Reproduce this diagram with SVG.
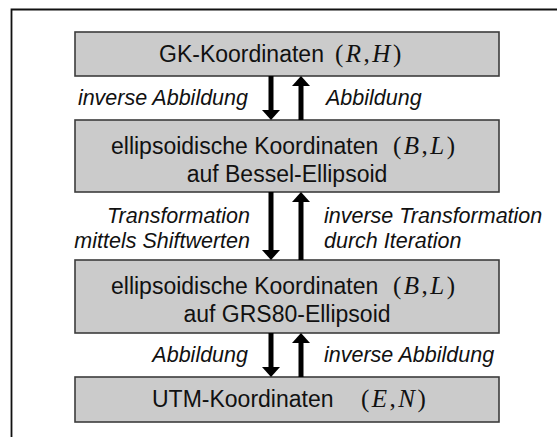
<svg xmlns="http://www.w3.org/2000/svg" width="557" height="437" viewBox="0 0 557 437">
<defs>
<style>
.box{fill:#cbcbcb;stroke:#3c3c3c;stroke-width:1.6}
.t{font-family:"Liberation Sans",Arial,sans-serif;font-size:23px;fill:#111}
.m{font-family:"Liberation Serif","Times New Roman",serif;font-size:25px;fill:#111;letter-spacing:2.5px}
.mi{font-style:italic}
.lab{font-family:"Liberation Sans",Arial,sans-serif;font-size:21.5px;font-style:italic;fill:#111}
</style>
<marker id="ah" viewBox="0 0 10 18" markerWidth="10" markerHeight="18" refX="0" refY="9" orient="auto" markerUnits="userSpaceOnUse">
<path d="M0,0 L10,9 L0,18 Z" fill="#000"/>
</marker>
</defs>
<rect width="557" height="437" fill="#fff"/>
<path d="M11.5,437 V9.5 H557" fill="none" stroke="#111" stroke-width="1.8"/>

<g id="node-gk">
<rect class="box" x="75" y="32" width="424" height="44"/>
<text class="t" x="159" y="62">GK-Koordinaten</text>
<text class="m" x="335" y="62">(<tspan class="mi">R</tspan>,<tspan class="mi">H</tspan>)</text>
</g>

<g id="node-bessel">
<rect class="box" x="75" y="120" width="424" height="72"/>
<text class="t" x="111" y="154">ellipsoidische Koordinaten</text>
<text class="m" x="393" y="154">(<tspan class="mi">B</tspan>,<tspan class="mi">L</tspan>)</text>
<text class="t" x="287" y="182" text-anchor="middle">auf Bessel-Ellipsoid</text>
</g>

<g id="node-grs80">
<rect class="box" x="75" y="260" width="424" height="73"/>
<text class="t" x="111" y="294">ellipsoidische Koordinaten</text>
<text class="m" x="393" y="294">(<tspan class="mi">B</tspan>,<tspan class="mi">L</tspan>)</text>
<text class="t" x="287" y="322" text-anchor="middle">auf GRS80-Ellipsoid</text>
</g>

<g id="node-utm">
<rect class="box" x="75" y="377" width="424" height="45"/>
<text class="t" x="152" y="407">UTM-Koordinaten</text>
<text class="m" x="361" y="407">(<tspan class="mi">E</tspan>,<tspan class="mi">N</tspan>)</text>
</g>

<g id="connectors" stroke="#000" stroke-width="5" fill="none">
<line x1="271" y1="76" x2="271" y2="110" marker-end="url(#ah)"/>
<line x1="301" y1="120" x2="301" y2="86" marker-end="url(#ah)"/>
<line x1="271" y1="192" x2="271" y2="250" marker-end="url(#ah)"/>
<line x1="301" y1="260" x2="301" y2="202" marker-end="url(#ah)"/>
<line x1="271" y1="333" x2="271" y2="367" marker-end="url(#ah)"/>
<line x1="301" y1="377" x2="301" y2="343" marker-end="url(#ah)"/>
</g>

<g id="labels">
<text class="lab" x="248" y="105" text-anchor="end">inverse Abbildung</text>
<text class="lab" x="326" y="105">Abbildung</text>
<text class="lab" x="250" y="223" text-anchor="end">Transformation</text>
<text class="lab" x="250" y="248" text-anchor="end">mittels Shiftwerten</text>
<text class="lab" x="324" y="223">inverse Transformation</text>
<text class="lab" x="324" y="248">durch Iteration</text>
<text class="lab" x="248" y="362" text-anchor="end">Abbildung</text>
<text class="lab" x="324" y="362">inverse Abbildung</text>
</g>
</svg>
